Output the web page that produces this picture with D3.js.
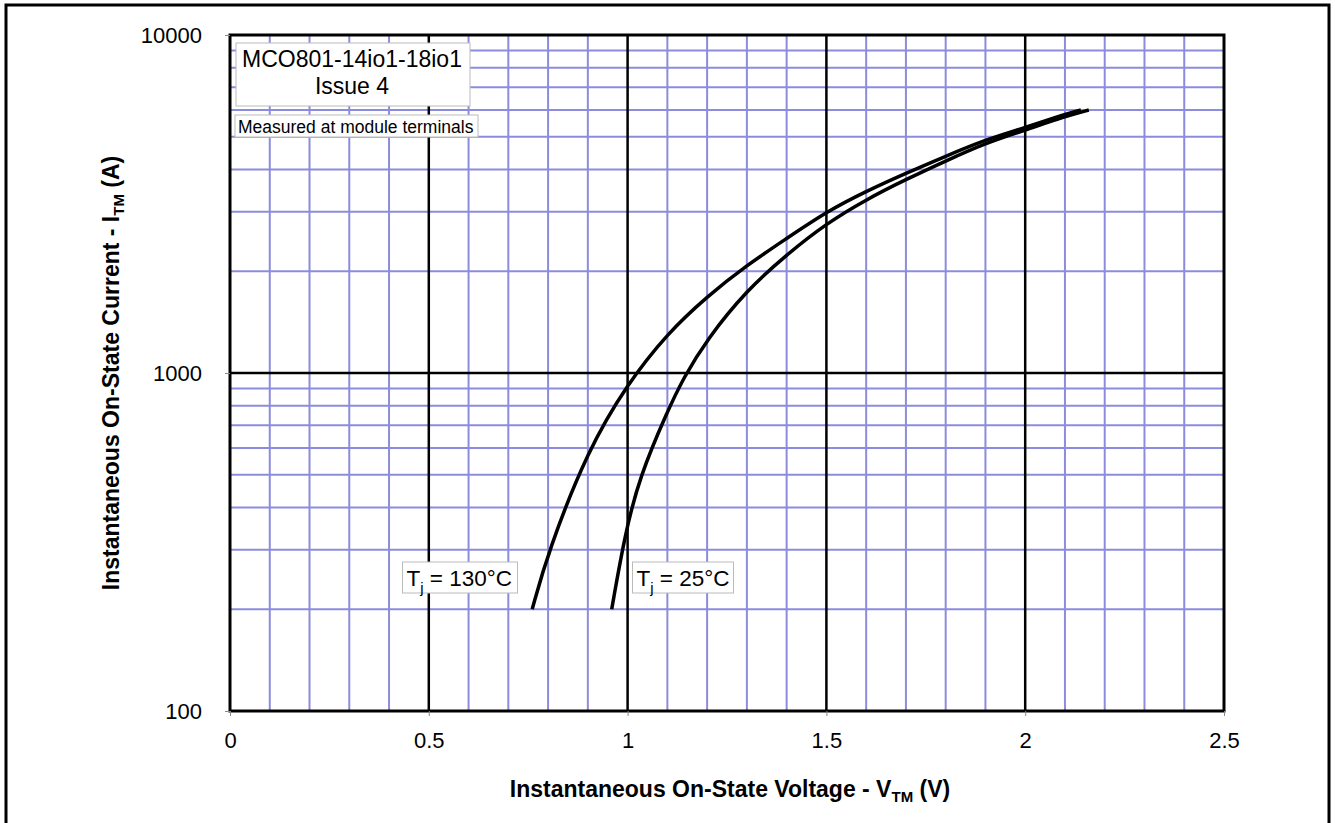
<!DOCTYPE html>
<html>
<head>
<meta charset="utf-8">
<script src="https://cdn.jsdelivr.net/npm/d3@7"></script>
<style>
  body { margin: 0; background: #fff; }
  svg { font-family: "Liberation Sans", Arial, sans-serif; }
</style>
</head>
<body>
<div class="chart"></div>
<script>
// on-state characteristic
const v130 = [0.76, 0.80, 0.90, 1.00, 1.10, 1.20, 1.30, 1.40, 1.50, 1.60, 1.70, 1.80, 1.90, 2.00, 2.10, 2.14];
const i130 = [200, 296, 592, 930, 1310, 1685, 2085, 2500, 3000, 3450, 3900, 4380, 4900, 5320, 5830, 6000];
const v25 = [0.96, 0.993, 1.03, 1.10, 1.14, 1.20, 1.30, 1.40, 1.50, 1.60, 1.70, 1.80, 1.90, 2.00, 2.10, 2.16];
const i25 = [200, 332, 493, 770, 965, 1260, 1760, 2240, 2770, 3260, 3740, 4240, 4790, 5230, 5740, 6000];

const xTicks = [0, 0.5, 1, 1.5, 2, 2.5];
const yTicks = [100, 1000, 10000];
const xMinor = d3.range(1, 25).map(d => d / 10).filter(d => Math.round(d * 10) % 5 !== 0);
const yMinor = [200, 300, 400, 500, 600, 700, 800, 900, 2000, 3000, 4000, 5000, 6000, 7000, 8000, 9000];

const margin = { top: 35, right: 111, bottom: 112, left: 230 };
const width = 1335, height = 823;
const graphWidth = width - margin.left - margin.right;
const graphHeight = height - margin.top - margin.bottom;

const svg = d3.select('.chart')
  .append('svg')
  .attr('width', width)
  .attr('height', height);

// outer frame
svg.append('rect')
  .attr('x', 6).attr('y', 5)
  .attr('width', 1323).attr('height', 830)
  .attr('fill', 'none')
  .attr('stroke', '#000')
  .attr('stroke-width', 3);

const graph = svg.append('g')
  .attr('transform', `translate(${margin.left}, ${margin.top})`);

const x = d3.scaleLinear().domain([0, 2.5]).range([0, graphWidth]);
const y = d3.scaleLog().domain([100, 10000]).range([graphHeight, 0]);

// minor grid
graph.append('g').selectAll('line').data(xMinor).enter().append('line')
  .attr('x1', d => x(d)).attr('x2', d => x(d))
  .attr('y1', 0).attr('y2', graphHeight)
  .attr('stroke', '#8c8cdc').attr('stroke-width', 2);

graph.append('g').selectAll('line').data(yMinor).enter().append('line')
  .attr('x1', 0).attr('x2', graphWidth)
  .attr('y1', d => y(d)).attr('y2', d => y(d))
  .attr('stroke', '#8c8cdc').attr('stroke-width', 2);

// major grid
graph.append('g').selectAll('line').data(xTicks.slice(1, -1)).enter().append('line')
  .attr('x1', d => x(d)).attr('x2', d => x(d))
  .attr('y1', 0).attr('y2', graphHeight)
  .attr('stroke', '#000').attr('stroke-width', 2.5);

graph.append('g').selectAll('line').data([1000]).enter().append('line')
  .attr('x1', 0).attr('x2', graphWidth)
  .attr('y1', d => y(d)).attr('y2', d => y(d))
  .attr('stroke', '#000').attr('stroke-width', 2.5);

// plot border
graph.append('rect')
  .attr('width', graphWidth).attr('height', graphHeight)
  .attr('fill', 'none')
  .attr('stroke', '#000')
  .attr('stroke-width', 3);

// axes
const xAxis = d3.axisBottom(x).tickValues(xTicks).tickSize(5).tickPadding(16)
  .tickFormat(d3.format('~g'));
const yAxis = d3.axisLeft(y).tickValues(yTicks).tickSize(5).tickPadding(23)
  .tickFormat(d3.format('d'));

const xAxisGroup = graph.append('g').attr('transform', `translate(0, ${graphHeight})`).call(xAxis);
const yAxisGroup = graph.append('g').call(yAxis);

[xAxisGroup, yAxisGroup].forEach(g => {
  g.select('.domain').remove();
  g.selectAll('line').attr('stroke', '#888').attr('stroke-width', 1);
  g.selectAll('text').attr('fill', '#000')
    .style('font-size', '22px')
    .style('font-family', '"Liberation Sans", Arial, sans-serif');
});

// curves
const line = d3.line()
  .x(d => x(d[0]))
  .y(d => y(d[1]))
  .curve(d3.curveBasis);

[[v130, i130], [v25, i25]].forEach(([vs, is]) => {
  graph.append('path')
    .datum(vs.map((v, k) => [v, is[k]]))
    .attr('fill', 'none')
    .attr('stroke', '#000')
    .attr('stroke-width', 3.5)
    .attr('d', line);
});

// labels inside the plot
const labelBox = (bx, by, bw, bh) => graph.append('rect')
  .attr('x', bx).attr('y', by).attr('width', bw).attr('height', bh)
  .attr('fill', '#fff').attr('stroke', '#bbb').attr('stroke-width', 1);

labelBox(6, 8, 234, 63);
graph.append('text').attr('x', 122).attr('y', 32)
  .attr('text-anchor', 'middle').style('font-size', '23px')
  .text('MCO801-14io1-18io1');
graph.append('text').attr('x', 122).attr('y', 59)
  .attr('text-anchor', 'middle').style('font-size', '23px')
  .text('Issue 4');

labelBox(5, 80, 243, 22);
graph.append('text').attr('x', 8).attr('y', 98)
  .style('font-size', '17.5px')
  .text('Measured at module terminals');

const tjLabel = (lx, bw, txt) => {
  labelBox(lx, 527, bw, 31);
  const t = graph.append('text').attr('x', lx + 4).attr('y', 551).style('font-size', '22.5px');
  t.append('tspan').text('T');
  t.append('tspan').attr('dy', 7).style('font-size', '15px').text('j');
  t.append('tspan').attr('dy', -7).text(' = ' + txt);
};
tjLabel(172.5, 115, '130°C');
tjLabel(402.5, 101, '25°C');

// axis titles
const xt = svg.append('text')
  .attr('x', 730).attr('y', 797)
  .attr('text-anchor', 'middle')
  .style('font-size', '23px').style('font-weight', 'bold');
xt.append('tspan').text('Instantaneous  On-State Voltage - V');
xt.append('tspan').attr('dy', 5).style('font-size', '15px').text('TM');
xt.append('tspan').attr('dy', -5).text(' (V)');

const yt = svg.append('text')
  .attr('transform', 'translate(119, 373) rotate(-90)')
  .attr('text-anchor', 'middle')
  .style('font-size', '23px').style('font-weight', 'bold');
yt.append('tspan').text('Instantaneous  On-State Current - I');
yt.append('tspan').attr('dy', 5).style('font-size', '15px').text('TM');
yt.append('tspan').attr('dy', -5).text(' (A)');
</script>
</body>
</html>
